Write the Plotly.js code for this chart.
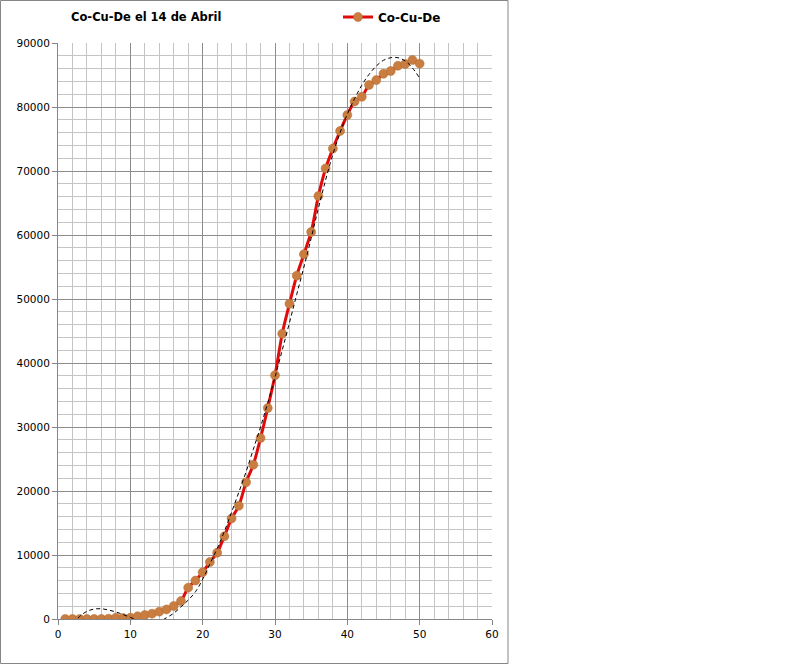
<!DOCTYPE html>
<html>
<head>
<meta charset="utf-8">
<script src="https://cdn.plot.ly/plotly-3.0.1.min.js"></script>
<style>html,body{margin:0;padding:0;background:#fff;}#chart{width:800px;height:665px;}</style>
</head>
<body>
<div id="chart"></div>
<script>
// Day index
const days = [1,2,3,4,5,6,7,8,9,10,11,12,13,14,15,16,17,18,19,20,21,22,23,24,25,26,27,28,29,30,31,32,33,34,35,36,37,38,39,40,41,42,43,44,45,46,47,48,49,50];
// Co-Cu-De values
const cocude = [0,0,0,0,0,0,50,200,150,200,420,620,830,1150,1500,2030,2800,4900,6000,7300,8900,10360,12920,15700,17700,21360,24100,28280,32970,38080,44580,49250,53640,57000,60470,66100,70400,73500,76250,78750,80850,81600,83440,84200,85200,85620,86450,86720,87340,86770];
// Dashed trend line at the same days
const trend = [-2500,-900,400,1200,1550,1600,1400,1100,700,250,-200,-550,-650,-400,200,900,1900,2950,4250,6200,8600,11000,13700,16700,19800,23000,26500,30000,33800,37800,42000,46300,50700,55000,59500,64200,68600,72600,76000,78900,81300,83400,85100,86400,87300,87700,87700,87200,86100,84500];

const seriesName = "Co-Cu-De";
const chartTitle = "Co-Cu-De el 14 de Abril";

const font = "DejaVu Sans, Verdana, sans-serif";

const traces = [
  {
    x: days, y: cocude, name: seriesName, type: "scatter", mode: "lines+markers",
    line: {color: "#e00c0c", width: 3, shape: "spline", smoothing: 0.8},
    marker: {color: "#c97d40", size: 9, line: {color: "#b06a30", width: 0.5}}
  },
  {
    x: days, y: trend, name: "trend", type: "scatter", mode: "lines", showlegend: false,
    line: {color: "#000000", width: 1, dash: "4px,3px", shape: "spline", smoothing: 1},
    hoverinfo: "skip"
  }
];

const layout = {
  width: 800, height: 665,
  paper_bgcolor: "#ffffff", plot_bgcolor: "#ffffff",
  margin: {l: 58, r: 308, t: 43, b: 46, pad: 0, autoexpand: false},
  font: {family: font, size: 11, color: "#000"},
  title: {
    text: "<b>" + chartTitle + "</b>",
    font: {family: font, size: 11.5, color: "#000"},
    xref: "paper", x: 0.03, xanchor: "left",
    yref: "container", y: 1 - 17/665, yanchor: "middle",
    automargin: false
  },
  showlegend: true,
  legend: {
    xref: "container", yref: "container",
    x: 338/800, y: 1 - 17/665, xanchor: "left", yanchor: "middle",
    font: {family: font, size: 12, color: "#000", weight: "bold"},
    bgcolor: "rgba(0,0,0,0)", borderwidth: 0
  },
  xaxis: {
    range: [0, 60], dtick: 10, tick0: 0,
    showgrid: true, gridcolor: "#8c8c8c", gridwidth: 1,
    minor: {dtick: 2, showgrid: true, gridcolor: "#c4c4c4", gridwidth: 1},
    showline: true, linecolor: "#868686", linewidth: 1,
    ticks: "outside", ticklen: 5, tickcolor: "#868686",
    zeroline: false,
    tickfont: {family: font, size: 10.5, color: "#000"}
  },
  yaxis: {
    range: [0, 90000], dtick: 10000, tick0: 0,
    showgrid: true, gridcolor: "#8c8c8c", gridwidth: 1,
    minor: {dtick: 2000, showgrid: true, gridcolor: "#c4c4c4", gridwidth: 1},
    showline: true, linecolor: "#868686", linewidth: 1,
    ticks: "outside", ticklen: 5, tickcolor: "#868686",
    zeroline: false, tickformat: "d", separatethousands: false,
    tickfont: {family: font, size: 10.5, color: "#000"}
  },
  shapes: [
    {type: "rect", xref: "paper", yref: "paper",
     x0: (0.5-58)/434, x1: (508-58)/434, y0: (619-663.5)/576, y1: (619-0.5)/576,
     line: {color: "#868686", width: 1}, fillcolor: "rgba(0,0,0,0)", layer: "below"}
  ]
};

Plotly.newPlot("chart", traces, layout, {displayModeBar: false, staticPlot: true});
</script>
</body>
</html>
